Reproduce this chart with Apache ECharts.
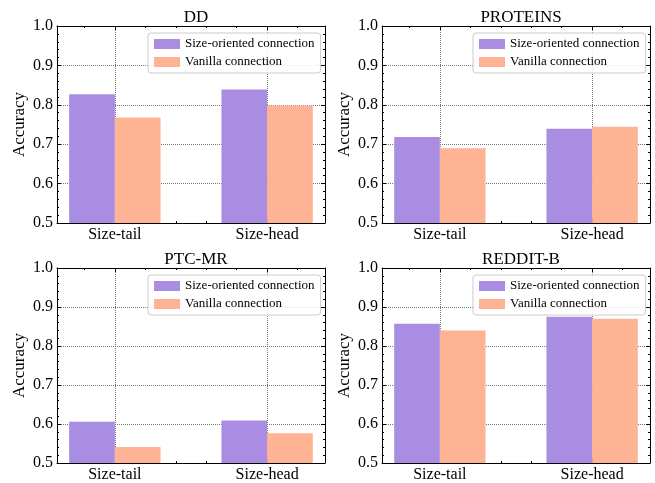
<!DOCTYPE html>
<html>
<head>
<meta charset="utf-8">
<script src="https://cdn.jsdelivr.net/npm/echarts@6/dist/echarts.min.js"></script>
<style>html,body{margin:0;padding:0;background:#fff;}#c{width:655px;height:483px;}</style>
</head>
<body>
<div id="c"></div>
<script>
// ---- data ----
const categories = ['Size-tail', 'Size-head'];
const seriesNames = ['Size-oriented connection', 'Vanilla connection'];
const datasetNames = ['DD', 'PROTEINS', 'PTC-MR', 'REDDIT-B'];
const ddSize = [0.827, 0.839];
const ddVanilla = [0.768, 0.798];
const proteinsSize = [0.718, 0.739];
const proteinsVanilla = [0.690, 0.744];
const ptcSize = [0.606, 0.609];
const ptcVanilla = [0.541, 0.576];
const redditSize = [0.857, 0.875];
const redditVanilla = [0.840, 0.870];
const yTickMin = 0.5, yTickMax = 1.0, yTickStep = 0.1;

// ---- layout / style ----
const FONT = 'Liberation Serif';
const COLORS = ['#A98DE2', '#FFB395'];
const GW = 268, GH = 197;
const XMIN = -0.38, XMAX = 1.38;
const BAR_FRAC = 0.3;
const barPx = BAR_FRAC * GW / (XMAX - XMIN);
const panels = [
  {title: datasetNames[0], vals: [ddSize, ddVanilla], left: 57, top: 26},
  {title: datasetNames[1], vals: [proteinsSize, proteinsVanilla], left: 382, top: 26},
  {title: datasetNames[2], vals: [ptcSize, ptcVanilla], left: 57, top: 268},
  {title: datasetNames[3], vals: [redditSize, redditVanilla], left: 382, top: 268}
];
const catIdx = categories.map((c, j) => j);
const minorX = [-0.2, 0.2, 0.4, 0.6, 0.8, 1.2];

const grid = [], xAxis = [], yAxis = [], series = [], legend = [], title = [];
panels.forEach((p, i) => {
  grid.push({left: p.left, top: p.top, width: GW, height: GH});
  title.push({text: p.title, left: p.left + GW / 2, top: p.top - 22, textAlign: 'center',
    textStyle: {fontFamily: FONT, fontSize: 17, fontWeight: 'normal', color: '#000'}});
  const baseX = {gridIndex: i, type: 'value', min: XMIN, max: XMAX,
    axisLine: {show: true, onZero: false, lineStyle: {color: '#000', width: 1}},
    splitLine: {show: false}, axisLabel: {show: false}};
  xAxis.push(Object.assign({}, baseX, {position: 'bottom',
    axisTick: {show: true, inside: true, length: 4, customValues: catIdx, lineStyle: {color: '#000'}},
    axisLabel: {show: true, customValues: catIdx, formatter: v => categories[Math.round(v)],
      fontFamily: FONT, fontSize: 16, color: '#000', margin: 4},
    splitLine: {show: true, lineStyle: {type: 'dotted', color: '#777', width: 1}}}));
  xAxis.push(Object.assign({}, baseX, {position: 'top',
    axisTick: {show: true, inside: true, length: 4, customValues: catIdx, lineStyle: {color: '#000'}}}));
  xAxis.push(Object.assign({}, baseX, {position: 'bottom', axisLine: {show: false, onZero: false},
    axisTick: {show: true, inside: true, length: 2, customValues: minorX, lineStyle: {color: '#000'}}}));
  xAxis.push(Object.assign({}, baseX, {position: 'top', axisLine: {show: false, onZero: false},
    axisTick: {show: true, inside: true, length: 2, customValues: minorX, lineStyle: {color: '#000'}}}));
  const baseY = {gridIndex: i, type: 'value', min: yTickMin, max: yTickMax, interval: yTickStep,
    axisLine: {show: true, onZero: false, lineStyle: {color: '#000', width: 1}},
    axisTick: {show: true, inside: true, length: 4, lineStyle: {color: '#000'}},
    minorTick: {show: true, splitNumber: 5, length: 2, lineStyle: {color: '#000'}}};
  yAxis.push(Object.assign({}, baseY, {position: 'left',
    name: 'Accuracy', nameLocation: 'middle', nameGap: 29,
    nameTextStyle: {fontFamily: FONT, fontSize: 17, color: '#000'},
    axisLabel: {show: true, formatter: v => v.toFixed(1), fontFamily: FONT, fontSize: 16, color: '#000', margin: 4},
    splitLine: {show: true, lineStyle: {type: 'dotted', color: '#777', width: 1}}}));
  yAxis.push(Object.assign({}, baseY, {position: 'right', axisLabel: {show: false}, splitLine: {show: false}}));
  p.vals.forEach((arr, k) => {
    series.push({type: 'bar', name: seriesNames[k], xAxisIndex: i * 4, yAxisIndex: i * 2,
      data: catIdx.map(j => [j, arr[j]]), barWidth: barPx, barGap: '0%',
      itemStyle: {color: COLORS[k]}, clip: true});
  });
  legend.push({data: seriesNames, orient: 'vertical', left: p.left + 91, top: p.top + 7,
    icon: 'rect', itemWidth: 26, itemHeight: 10, itemGap: 4, itemTextGap: 9,
    padding: [4, 6, 4, 6], backgroundColor: 'rgba(255,255,255,0.85)', borderColor: '#ccc',
    borderWidth: 1, borderRadius: 3,
    textStyle: {fontFamily: FONT, fontSize: 13, color: '#000', lineHeight: 14}});
});

const chart = echarts.init(document.getElementById('c'), null, {renderer: 'canvas'});
chart.setOption({animation: false, backgroundColor: '#fff', title, grid, xAxis, yAxis, legend, series});
</script>
</body>
</html>
